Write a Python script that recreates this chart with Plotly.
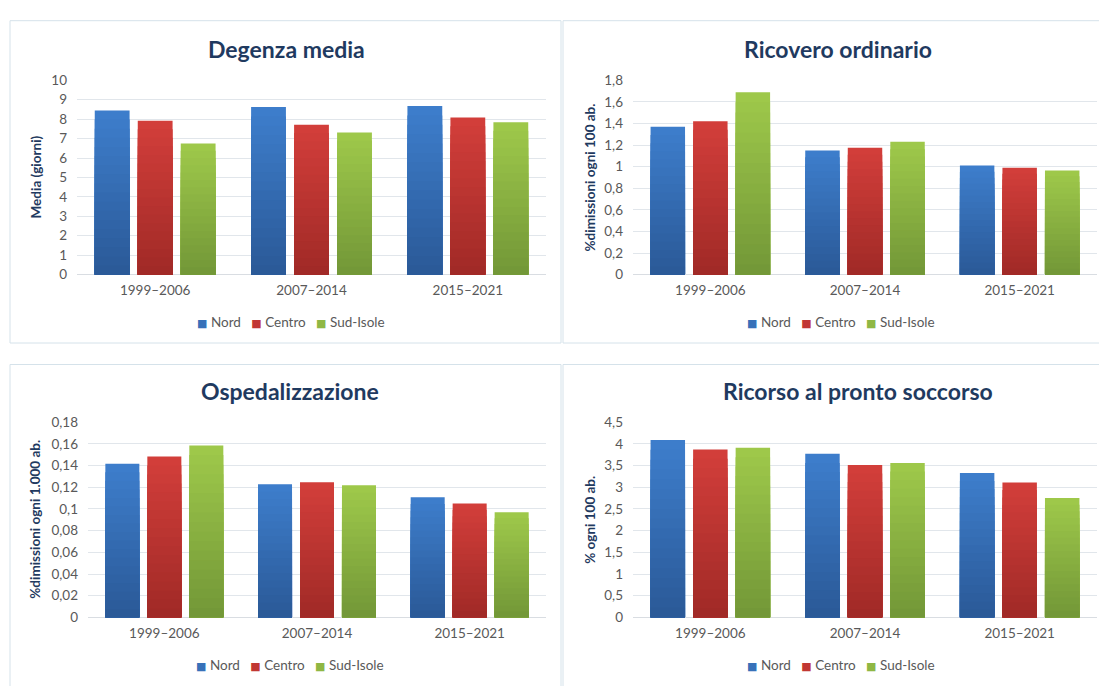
import plotly.graph_objects as go

W, H = 1099, 686

periods = ["1999–2006", "2007–2014", "2015–2021"]
regions = ["Nord", "Centro", "Sud-Isole"]

# Degenza media (giorni)
degenza_nord = [8.45, 8.62, 8.67]
degenza_centro = [7.92, 7.71, 8.09]
degenza_sud = [6.75, 7.31, 7.84]

# Ricovero ordinario (% dimissioni ogni 100 ab.)
ricovero_nord = [1.37, 1.15, 1.01]
ricovero_centro = [1.42, 1.175, 0.99]
ricovero_sud = [1.69, 1.23, 0.965]

# Ospedalizzazione (% dimissioni ogni 1.000 ab.)
osped_nord = [0.1416, 0.1227, 0.1107]
osped_centro = [0.1482, 0.1245, 0.105]
osped_sud = [0.1584, 0.1218, 0.0969]

# Ricorso al pronto soccorso (% ogni 100 ab.)
ps_nord = [4.09, 3.77, 3.33]
ps_centro = [3.87, 3.51, 3.11]
ps_sud = [3.91, 3.56, 2.75]

# top / bottom colours of the bar gradients
grad = {
    "Nord": ("#3d7dcb", "#2b5a98"),
    "Centro": ("#d23e3a", "#a12a27"),
    "Sud-Isole": ("#9ec84a", "#739838"),
}

NAVY = "#1f3a60"
GREY = "#595959"
FONT = "Lato"
NB = "\u00a0"


def px_x(p):
    return p / W


def px_y(p):
    return 1 - p / H


def mix(c1, c2, t):
    a = [int(c1[i:i + 2], 16) for i in (1, 3, 5)]
    b = [int(c2[i:i + 2], 16) for i in (1, 3, 5)]
    return "#%02x%02x%02x" % tuple(round(a[i] + (b[i] - a[i]) * t) for i in range(3))


panels = [
    dict(title="Degenza media", ytitle="Media (giorni)",
         series=[degenza_nord, degenza_centro, degenza_sud],
         yrange=[0, 10], dtick=1,
         plot_x=(77, 546), plot_y=(74, 273),
         title_xy=(286, 42), ytitle_x=36, legend_xy=(291, 322),
         frame=(10, 561, 13, 343)),
    dict(title="Ricovero ordinario", ytitle="%dimissioni ogni 100 ab.",
         series=[ricovero_nord, ricovero_centro, ricovero_sud],
         yrange=[0, 1.8], dtick=0.2,
         plot_x=(633, 1097), plot_y=(74, 273),
         title_xy=(838, 42), ytitle_x=590, legend_xy=(841, 322),
         frame=(563, 1110, 13, 343)),
    dict(title="Ospedalizzazione", ytitle="%dimissioni ogni 1.000 ab.",
         series=[osped_nord, osped_centro, osped_sud],
         yrange=[0, 0.18], dtick=0.02,
         plot_x=(88, 546), plot_y=(424, 624),
         title_xy=(290, 392), ytitle_x=35, legend_xy=(290, 673),
         frame=(10, 561, 365, 700)),
    dict(title="Ricorso al pronto soccorso", ytitle="% ogni 100 ab.",
         series=[ps_nord, ps_centro, ps_sud],
         yrange=[0, 4.5], dtick=0.5,
         plot_x=(633, 1097), plot_y=(424, 624),
         title_xy=(858, 392), ytitle_x=590, legend_xy=(841, 673),
         frame=(563, 1110, 365, 700)),
]

N_SHADES = 18

# legend line: coloured square + region name for each series
legend_text = (NB * 3).join(
    '<span style="color:%s;font-family:DejaVu Sans;font-size:11px">■%s</span>%s'
    % (mix(grad[r][0], grad[r][1], 0.35), NB, r)
    for r in regions
)

fig = go.Figure()
layout = dict(
    width=W, height=H,
    margin=dict(l=0, r=0, t=0, b=0),
    paper_bgcolor="white", plot_bgcolor="white",
    separators=",.",
    barmode="group", bargap=0.175, bargroupgap=0.19,
    showlegend=False,
    font=dict(family=FONT, size=13.5, color=GREY),
    annotations=[], shapes=[],
)

for i, p in enumerate(panels, start=1):
    sfx = "" if i == 1 else str(i)
    xa, ya = "x" + sfx, "y" + sfx

    for name, vals in zip(regions, p["series"]):
        top, bottom = grad[name]
        for k in range(N_SHADES):
            frac = 1 - k / N_SHADES
            fig.add_trace(go.Bar(
                x=periods, y=[v * frac for v in vals],
                name=name, offsetgroup=name,
                marker=dict(color=mix(top, bottom, k / (N_SHADES - 1)), line=dict(width=0)),
                xaxis=xa, yaxis=ya,
                hoverinfo="x+y+name" if k == 0 else "skip",
            ))

    layout["xaxis" + sfx] = dict(
        domain=[px_x(p["plot_x"][0]), px_x(p["plot_x"][1])],
        anchor=ya, showline=False, ticks="", showgrid=False,
        tickfont=dict(family=FONT, size=13.5, color=GREY),
        ticklabelstandoff=6,
    )
    layout["yaxis" + sfx] = dict(
        domain=[px_y(p["plot_y"][1]), px_y(p["plot_y"][0])],
        anchor=xa, range=p["yrange"], dtick=p["dtick"], tick0=0,
        showline=False, ticks="", gridcolor="#e1e6eb", gridwidth=1,
        zeroline=True, zerolinecolor="#d9dde2", zerolinewidth=1,
        tickfont=dict(family=FONT, size=13.5, color=GREY),
        ticklabelstandoff=9,
    )

    layout["annotations"].append(dict(
        text="<b>%s</b>" % p["title"], xref="paper", yref="paper",
        x=px_x(p["title_xy"][0]), y=px_y(p["title_xy"][1]),
        xanchor="center", yanchor="middle", showarrow=False,
        font=dict(family=FONT, size=23, color=NAVY),
    ))
    layout["annotations"].append(dict(
        text="<b>%s</b>" % p["ytitle"], xref="paper", yref="paper",
        x=px_x(p["ytitle_x"]), y=px_y((p["plot_y"][0] + p["plot_y"][1]) / 2),
        xanchor="center", yanchor="middle", textangle=-90, showarrow=False,
        font=dict(family=FONT, size=13.5, color=NAVY),
    ))
    layout["annotations"].append(dict(
        text=legend_text, xref="paper", yref="paper",
        x=px_x(p["legend_xy"][0]), y=px_y(p["legend_xy"][1]),
        xanchor="center", yanchor="middle", showarrow=False,
        font=dict(family=FONT, size=13.5, color=GREY),
    ))
    x0, x1, y0, y1 = p["frame"]
    layout["shapes"].append(dict(
        type="rect", xref="paper", yref="paper", layer="below",
        x0=px_x(x0), x1=px_x(x1), y0=px_y(y1), y1=px_y(y0),
        line=dict(color="#d5e2ea", width=1), fillcolor="rgba(0,0,0,0)",
    ))

fig.update_layout(**layout)
fig.write_html("out.html")
